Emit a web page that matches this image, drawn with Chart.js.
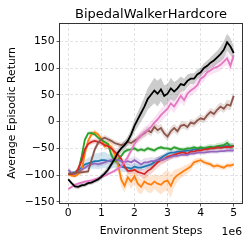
<!DOCTYPE html>
<html>
<head>
<meta charset="utf-8">
<script src="https://cdn.jsdelivr.net/npm/chart.js@4.4.1/dist/chart.umd.min.js"></script>
<style>
  html, body { margin: 0; padding: 0; background: #fff; }
  #wrap { width: 249px; height: 245px; position: relative; }
</style>
</head>
<body>
<div id="wrap"><canvas id="c"></canvas></div>
<script>
// BipedalWalkerHardcore - average episodic return vs environment steps (x in units of 1e6)

var STEPS = [0, 0.1, 0.2, 0.3, 0.4, 0.5, 0.6, 0.7, 0.8, 0.9,
  1.0, 1.1, 1.2, 1.3, 1.4, 1.5, 1.6, 1.7, 1.8, 1.9,
  2.0, 2.1, 2.2, 2.3, 2.4, 2.5, 2.6, 2.7, 2.8, 2.9,
  3.0, 3.1, 3.2, 3.3, 3.4, 3.5, 3.6, 3.7, 3.8, 3.9,
  4.0, 4.1, 4.2, 4.3, 4.4, 4.5, 4.6, 4.7, 4.8, 4.9, 5.0];

var X_TICKS = [0, 1, 2, 3, 4, 5];
var Y_TICKS = [-150, -100, -50, 0, 50, 100, 150];

var blueMean = [-98, -96, -95, -92, -86, -80, -78, -76, -74, -74,
  -72, -72, -74, -74, -72, -78, -84, -86, -86, -88,
  -84, -86, -86, -84, -82, -80, -76, -72, -68, -64,
  -60, -58, -58, -56, -56, -55, -54, -54, -52, -52,
  -50, -50, -50, -49, -48, -48, -47, -46, -46, -45, -46];
var blueSpread = [3, 3, 3, 4, 6, 8, 10, 12, 14, 15,
  15, 15, 14, 14, 14, 12, 10, 8, 8, 7,
  6, 6, 6, 6, 6, 6, 6, 6, 5, 5,
  5, 5, 5, 5, 5, 4, 4, 4, 4, 4,
  4, 4, 4, 4, 4, 4, 4, 5, 5, 5, 5];

var orangeMean = [-98, -101, -102, -98, -92, -60, -36, -24, -20, -24,
  -32, -46, -42, -48, -60, -80, -108, -120, -104, -112,
  -102, -116, -122, -112, -116, -118, -112, -116, -118, -112,
  -110, -120, -106, -100, -96, -92, -88, -84, -76, -74,
  -72, -76, -78, -80, -84, -82, -84, -86, -82, -82, -80];
var orangeSpread = [3, 3, 3, 4, 8, 8, 6, 5, 5, 5,
  6, 8, 8, 10, 12, 14, 14, 12, 12, 14,
  14, 16, 14, 14, 16, 16, 14, 16, 18, 18,
  20, 22, 16, 12, 10, 10, 8, 8, 6, 6,
  5, 5, 5, 5, 5, 5, 5, 5, 5, 5, 5];

var greenMean = [-98, -97, -96, -92, -66, -34, -22, -21, -24, -30,
  -34, -38, -42, -62, -74, -72, -64, -56, -53, -52,
  -50, -54, -52, -54, -50, -52, -54, -50, -48, -50,
  -50, -52, -48, -50, -52, -52, -50, -50, -48, -50,
  -48, -50, -48, -47, -48, -46, -45, -44, -40, -46, -46];
var greenSpread = [3, 3, 3, 4, 6, 5, 4, 4, 4, 4,
  4, 4, 5, 6, 6, 5, 4, 4, 4, 4,
  4, 4, 4, 4, 4, 4, 4, 4, 4, 4,
  4, 4, 4, 4, 4, 4, 4, 4, 4, 4,
  4, 4, 5, 5, 5, 6, 6, 6, 7, 6, 6];

var redMean = [-98, -98, -97, -88, -74, -52, -42, -38, -36, -38,
  -40, -44, -46, -50, -56, -62, -70, -84, -92, -92,
  -90, -94, -96, -98, -92, -88, -82, -76, -72, -70,
  -66, -64, -62, -60, -58, -58, -60, -56, -56, -54,
  -54, -52, -52, -50, -50, -48, -49, -48, -47, -48, -46];
var redSpread = [4, 4, 4, 5, 6, 6, 5, 5, 5, 5,
  5, 5, 5, 6, 6, 6, 6, 6, 6, 6,
  6, 7, 8, 9, 10, 10, 10, 10, 9, 8,
  8, 7, 6, 6, 6, 5, 5, 5, 5, 5,
  5, 5, 5, 4, 4, 4, 4, 4, 4, 4, 4];

var purpleMean = [-90, -96, -98, -94, -90, -86, -82, -80, -78, -80,
  -78, -76, -74, -72, -70, -72, -74, -76, -74, -76,
  -72, -76, -80, -76, -76, -74, -74, -72, -72, -70,
  -68, -66, -64, -64, -62, -62, -62, -60, -60, -58,
  -58, -58, -57, -56, -56, -56, -55, -55, -54, -54, -54];
var purpleSpread = [5, 5, 5, 5, 5, 5, 5, 5, 5, 5,
  5, 5, 5, 5, 5, 6, 6, 6, 7, 8,
  8, 8, 8, 8, 8, 8, 7, 7, 6, 6,
  5, 5, 5, 5, 4, 4, 4, 4, 4, 4,
  4, 4, 4, 4, 4, 4, 4, 4, 4, 4, 4];

var brownMean = [-97, -97, -96, -95, -95, -94, -93, -72, -52, -40,
  -33, -30, -33, -36, -40, -42, -44, -42, -38, -40,
  -36, -32, -26, -22, -16, -20, -10, -16, -12, -22,
  -28, -18, -12, -18, -8, -6, -10, -2, -4, 2,
  6, 4, 12, 18, 14, 22, 28, 24, 32, 30, 48];
var brownSpread = [3, 3, 3, 3, 3, 3, 4, 6, 6, 5,
  5, 5, 5, 5, 5, 5, 5, 6, 6, 6,
  6, 6, 6, 7, 7, 8, 8, 8, 8, 8,
  8, 8, 8, 8, 7, 7, 7, 7, 7, 7,
  7, 7, 7, 8, 8, 8, 8, 8, 9, 9, 8];

var pinkMean = [-126, -122, -118, -116, -114, -112, -111, -110, -108, -106,
  -104, -101, -98, -95, -92, -88, -83, -76, -66, -54,
  -42, -32, -26, -20, -16, -10, -2, 4, 12, 18,
  24, 34, 28, 38, 48, 40, 52, 58, 62, 68,
  80, 84, 92, 96, 100, 102, 106, 112, 118, 104, 124];
var pinkSpread = [3, 3, 3, 3, 3, 3, 3, 3, 3, 3,
  3, 3, 3, 3, 4, 4, 4, 5, 6, 7,
  8, 9, 10, 10, 10, 10, 10, 12, 12, 12,
  12, 12, 12, 12, 12, 12, 10, 10, 10, 10,
  10, 9, 9, 9, 10, 10, 10, 10, 12, 12, 10];

var blackMean = [-108, -115, -121, -122, -119, -118, -115, -114, -111, -108,
  -103, -97, -90, -80, -70, -58, -50, -44, -36, -24,
  -8, 4, 16, 28, 42, 50, 58, 52, 60, 48,
  52, 62, 56, 62, 70, 68, 76, 80, 80, 88,
  92, 100, 104, 110, 114, 120, 126, 134, 148, 140, 128];
var blackSpread = [3, 3, 4, 4, 4, 4, 4, 4, 4, 5,
  5, 6, 6, 6, 7, 8, 8, 8, 9, 10,
  12, 14, 16, 18, 20, 22, 24, 24, 22, 20,
  18, 20, 18, 16, 14, 12, 12, 10, 10, 9,
  9, 9, 10, 10, 12, 12, 14, 16, 16, 16, 12];

// drawing order follows matplotlib: later series on top
var SERIES = [
  { mean: blueMean, spread: blueSpread, color: '31,119,180' },
  { mean: orangeMean, spread: orangeSpread, color: '255,127,14' },
  { mean: greenMean, spread: greenSpread, color: '44,160,44' },
  { mean: redMean, spread: redSpread, color: '214,39,40' },
  { mean: purpleMean, spread: purpleSpread, color: '148,103,189' },
  { mean: brownMean, spread: brownSpread, color: '140,86,75' },
  { mean: pinkMean, spread: pinkSpread, color: '227,119,194' },
  { mean: blackMean, spread: blackSpread, color: '0,0,0' }
];

var FONT = 'DejaVu Sans';
var GRID_COLOR = 'rgba(190,190,190,0.55)';
var SPINE_COLOR = '#333';

function pts(ys) {
  return STEPS.map(function (x, i) { return { x: x, y: ys[i] }; });
}

function fmtTick(v) {
  return v < 0 ? '\u2212' + Math.abs(v) : String(v);
}

var datasets = [];
SERIES.forEach(function (s, k) {
  var upper = s.mean.map(function (m, i) { return m + s.spread[i]; });
  var lower = s.mean.map(function (m, i) { return m - s.spread[i]; });
  datasets.push({
    data: pts(upper), borderWidth: 0, pointRadius: 0,
    backgroundColor: 'rgba(' + s.color + ',0.2)', fill: '+1', order: 100 + k
  });
  datasets.push({
    data: pts(lower), borderWidth: 0, pointRadius: 0, fill: false, order: 100 + k
  });
});
SERIES.forEach(function (s, k) {
  datasets.push({
    data: pts(s.mean), borderColor: 'rgb(' + s.color + ')', borderWidth: 1.8,
    pointRadius: 0, fill: false, tension: 0, order: 20 - k
  });
});

// full box around the plot area, like matplotlib spines
var spinePlugin = {
  id: 'spines',
  afterDatasetsDraw: function (chart) {
    var a = chart.chartArea, ctx = chart.ctx;
    ctx.save();
    ctx.strokeStyle = SPINE_COLOR;
    ctx.lineWidth = 1;
    ctx.strokeRect(Math.round(a.left) - 0.5, Math.round(a.top) + 0.5,
      Math.round(a.right - a.left) + 1, Math.round(a.bottom - a.top));
    ctx.restore();
  },
  afterDraw: function (chart) {
    var ctx = chart.ctx;
    ctx.save();
    ctx.font = '10.8px "' + FONT + '"';
    ctx.fillStyle = '#000';
    ctx.textAlign = 'right';
    ctx.textBaseline = 'alphabetic';
    ctx.fillText('1e6', chart.chartArea.right, 234.6);
    ctx.restore();
  }
};

Chart.defaults.font.family = FONT;
Chart.defaults.color = '#000';

new Chart(document.getElementById('c'), {
  type: 'line',
  data: { datasets: datasets },
  options: {
    animation: false,
    responsive: true,
    maintainAspectRatio: false,
    layout: { padding: { left: 0, right: 7, top: 0, bottom: 0 } },
    scales: {
      x: {
        type: 'linear',
        min: -0.25,
        max: 5.25,
        afterFit: function (scale) { scale.height = 42; },
        afterBuildTicks: function (scale) {
          scale.ticks = X_TICKS.map(function (v) { return { value: v }; });
        },
        ticks: { font: { size: 10.8 }, padding: 0, maxRotation: 0, callback: fmtTick },
        grid: { color: GRID_COLOR, tickColor: SPINE_COLOR, tickLength: 3.5, lineWidth: 0.8 },
        border: { display: false, dash: [3, 2] },
        title: { display: true, text: 'Environment Steps', font: { size: 10.8 }, padding: { top: 0, bottom: 7.1 } }
      },
      y: {
        type: 'linear',
        min: -152,
        max: 184,
        afterFit: function (scale) { scale.width = 60; },
        afterBuildTicks: function (scale) {
          scale.ticks = Y_TICKS.map(function (v) { return { value: v }; });
        },
        ticks: { font: { size: 10.8 }, padding: 2, callback: fmtTick },
        grid: { color: GRID_COLOR, tickColor: SPINE_COLOR, tickLength: 3.5, lineWidth: 0.8 },
        border: { display: false, dash: [3, 2] },
        title: { display: true, text: 'Average Episodic Return', font: { size: 10.8 }, padding: { top: 5.5, bottom: 0 } }
      }
    },
    plugins: {
      legend: { display: false },
      tooltip: { enabled: false },
      filler: { drawTime: 'beforeDatasetsDraw' },
      title: {
        display: true,
        text: 'BipedalWalkerHardcore',
        fullSize: false,
        font: { size: 13, weight: 'normal' },
        color: '#000',
        padding: { top: 6.8, bottom: 0.6 }
      }
    }
  },
  plugins: [spinePlugin]
});
</script>
</body>
</html>
